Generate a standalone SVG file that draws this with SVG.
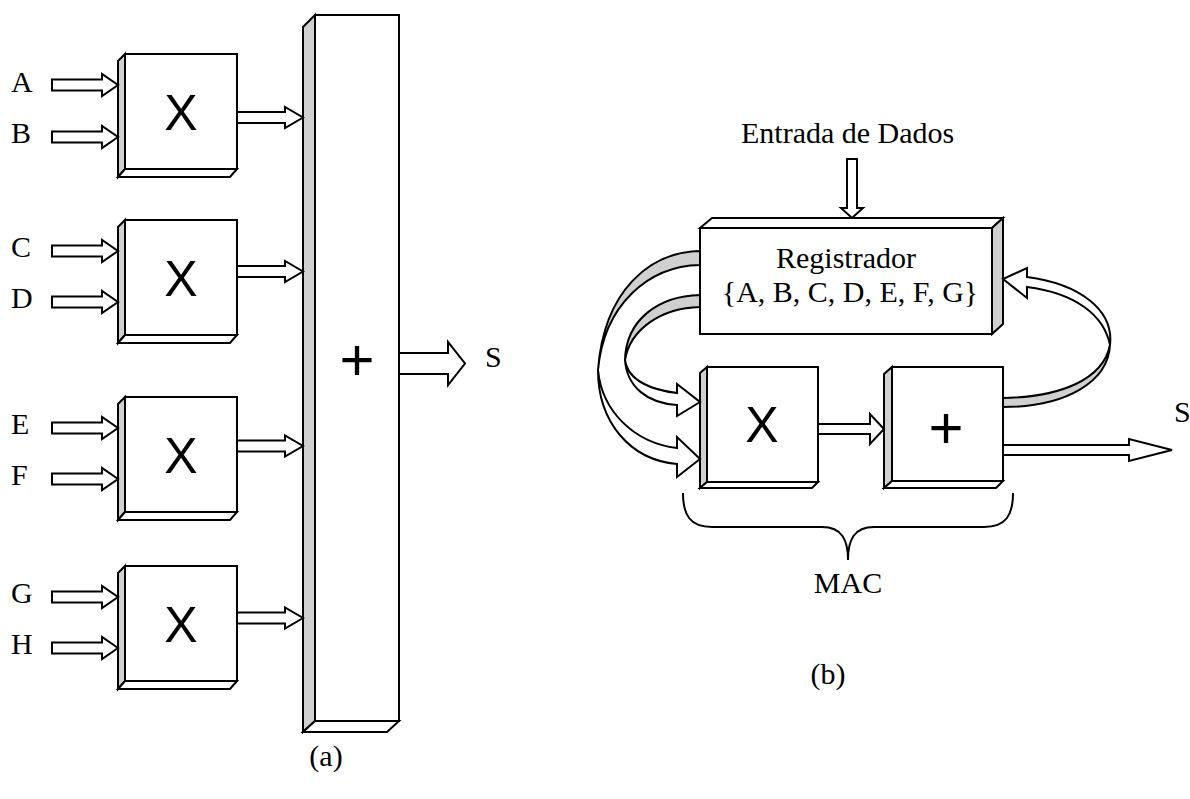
<svg xmlns="http://www.w3.org/2000/svg" width="1190" height="799" viewBox="0 0 1190 799">
<style>
.f{fill:#fff;stroke:#000;stroke-width:2;stroke-linejoin:miter}
.g{fill:#d0d0d0;stroke:#000;stroke-width:2;stroke-linejoin:miter}
.n{fill:none;stroke:#000;stroke-width:2}
.t{font-family:"Liberation Serif","Times New Roman",serif;font-size:30px;fill:#000}
.s{font-family:"Liberation Sans",Arial,sans-serif;fill:#000;text-anchor:middle}
</style>
<defs>
<g id="mbox">
<rect class="f" x="125" y="0" width="112" height="115"/>
<polygon class="g" points="118,7 125,0 125,115 118,123"/>
<polygon class="f" points="118,123 125,115 237,115 230,123"/>
<text class="s" x="181" y="76" font-size="50">X</text>
</g>
<polygon id="inArr" class="f" points="52,-5.5 102,-5.5 102,-11 118,0 102,11 102,5.5 52,5.5"/>
<polygon id="outArr" class="f" points="237,-5.5 285,-5.5 285,-10.5 303,0 285,10.5 285,5.5 237,5.5"/>
</defs>

<!-- (a) adder bar -->
<g id="adder-a">
<rect class="f" x="315" y="15" width="84" height="706"/>
<polygon class="g" points="303,27 315,15 315,721 303,732"/>
<polygon class="f" points="303,732 315,721 399,721 387,732"/>
<text class="s" x="357" y="380" font-size="60">+</text>
</g>

<g id="mult1"><use href="#mbox" transform="translate(0,54)"/></g>
<g id="mult2"><use href="#mbox" transform="translate(0,220)"/></g>
<g id="mult3"><use href="#mbox" transform="translate(0,397)"/></g>
<g id="mult4"><use href="#mbox" transform="translate(0,566)"/></g>

<g id="inputs-a">
<text class="t" x="11" y="92">A</text>
<text class="t" x="11" y="143">B</text>
<text class="t" x="11" y="257">C</text>
<text class="t" x="11" y="308">D</text>
<text class="t" x="11" y="434">E</text>
<text class="t" x="11" y="485">F</text>
<text class="t" x="11" y="603">G</text>
<text class="t" x="11" y="654">H</text>
<text class="t" x="485" y="367">S</text>
<text class="t" x="326" y="766" text-anchor="middle">(a)</text>
</g>

<g id="connectors-a">
<use href="#inArr" transform="translate(0,85)"/>
<use href="#inArr" transform="translate(0,137)"/>
<use href="#inArr" transform="translate(0,251)"/>
<use href="#inArr" transform="translate(0,302)"/>
<use href="#inArr" transform="translate(0,428)"/>
<use href="#inArr" transform="translate(0,479)"/>
<use href="#inArr" transform="translate(0,597)"/>
<use href="#inArr" transform="translate(0,648)"/>
<use href="#outArr" transform="translate(0,117.5)"/>
<use href="#outArr" transform="translate(0,271.5)"/>
<use href="#outArr" transform="translate(0,446)"/>
<use href="#outArr" transform="translate(0,618)"/>
<polygon class="f" points="399,353 448,353 448,342 465,363.5 448,385 448,374 399,374"/>
</g>

<!-- (b) -->
<g id="register">
<rect class="f" x="700" y="228" width="292" height="106"/>
<polygon class="f" points="700,228 712,218 1003,218 992,228"/>
<polygon class="g" points="992,228 1003,218 1003,324 992,334"/>
<text class="t" x="846" y="268" text-anchor="middle">Registrador</text>
<text class="t" x="850" y="302" text-anchor="middle">{A, B, C, D, E, F, G}</text>
</g>

<g id="mult-b">
<rect class="f" x="707" y="367" width="111" height="115"/>
<polygon class="g" points="700,373 707,367 707,482 700,488"/>
<polygon class="f" points="700,488 707,482 818,482 812,488"/>
<text class="s" x="762" y="442" font-size="50">X</text>
</g>

<g id="adder-b">
<rect class="f" x="892" y="367" width="111" height="114"/>
<polygon class="g" points="884,374 892,367 892,481 884,488"/>
<polygon class="f" points="884,488 892,481 1003,481 996,488"/>
<text class="s" x="946" y="448" font-size="60">+</text>
</g>

<g id="connectors-b">
<text class="t" x="741" y="143">Entrada de Dados</text>
<polygon class="f" points="847,159 857,159 857,208 863,208 852,218 841,208 847,208"/>
<!-- X to + -->
<polygon class="f" points="818,424 870,424 870,414 884,429 870,444 870,434 818,434"/>
<!-- output S -->
<polygon class="f" points="1003,445 1129,445 1129,439 1172,450 1129,461 1129,455 1003,455"/>
<text class="t" x="1174" y="422">S</text>
<!-- feedback + to register -->
<path class="g" d="M1003,398 C1060,397 1103,380 1110,345 C1108,382 1066,407 1003,407 Z"/>
<path class="f" d="M1110,345 C1114,310 1080,284 1027,277 L1027,268 L1003,279 L1027,298 L1027,287 C1075,293 1104,315 1110,345 Z"/>
<!-- outer ribbon register -> lower input -->
<path class="g" d="M700,251 C650,252 604,290 598,370 C604,305 648,266 700,265 Z"/>
<path class="f" d="M598,370 C598,422 630,460 677,464 L677,477 L700,459 L677,437 L677,448 C635,443 602,412 598,370 Z"/>
<!-- inner ribbon register -> upper input -->
<path class="g" d="M700,295 C658,296 626,320 625,360 C630,330 660,308 700,307 Z"/>
<path class="f" d="M625,360 C627,387 647,403 677,405 L677,416 L700,402 L677,384 L677,393 C652,390 628,381 625,360 Z"/>
</g>

<g id="brace">
<path class="n" d="M683,493 C683,515 690,527 712,527 L822,527 C842,527 848,540 848,560 C848,540 854,527 874,527 L984,527 C1006,527 1013,515 1013,493"/>
<text class="t" x="848" y="593" text-anchor="middle">MAC</text>
<text class="t" x="828" y="684" text-anchor="middle">(b)</text>
</g>
</svg>
